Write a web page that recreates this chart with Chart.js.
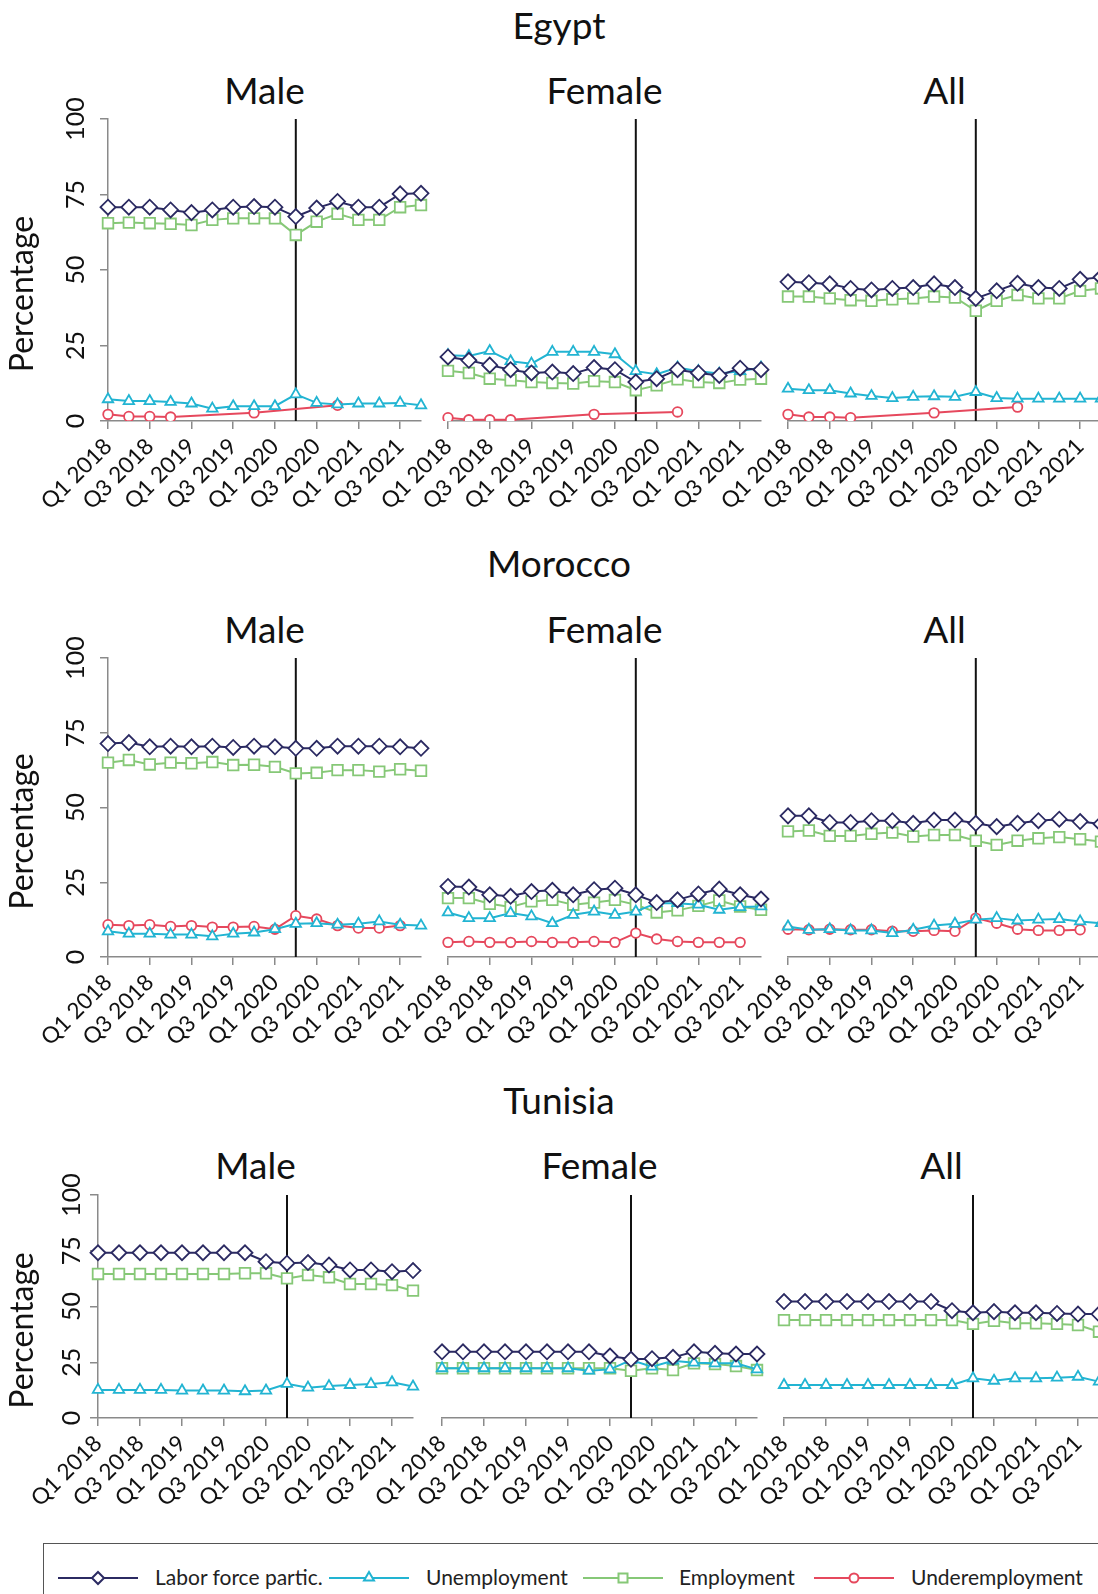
<!DOCTYPE html>
<html>
<head>
<meta charset="utf-8">
<script src="https://cdn.jsdelivr.net/npm/chart.js@4.4.1/dist/chart.umd.min.js"></script>
<style>
    html, body { margin: 0; padding: 0; background: #fff; }
    body { width: 1098px; height: 1594px; overflow: hidden; position: relative; font-family: Lato, 'Open Sans', sans-serif; color: #111; }
    canvas { position: absolute; }
    .title { position: absolute; transform: translateX(-50%); white-space: nowrap; line-height: 1; }
    .legend { position: absolute; left: 43px; top: 1543px; width: 1100px; height: 80px; border: 1.5px solid #555; box-sizing: border-box; }
    .legend svg { position: absolute; top: 24px; }
    .legend span { position: absolute; top: 22px; font-size: 21px; line-height: 21px; color: #222; white-space: nowrap; }
</style>
</head>
<body>
<div class="legend" id="legend"></div>
<script>
// Quarters and labels
const quarters = ['Q1 2018', 'Q2 2018', 'Q3 2018', 'Q4 2018', 'Q1 2019', 'Q2 2019', 'Q3 2019', 'Q4 2019',
                  'Q1 2020', 'Q2 2020', 'Q3 2020', 'Q4 2020', 'Q1 2021', 'Q2 2021', 'Q3 2021', 'Q4 2021'];
const breakQuarter = 'Q2 2020';
const yTicks = [0, 25, 50, 75, 100];
const countries = ['Egypt', 'Morocco', 'Tunisia'];
const groups = ['Male', 'Female', 'All'];
const seriesNames = ['Labor force partic.', 'Unemployment', 'Employment', 'Underemployment'];

// Egypt
const egyptMaleLfp    = [70.8, 70.8, 70.8, 69.9, 69.0, 69.9, 70.8, 71.0, 70.8, 67.7, 70.5, 72.7, 70.8, 70.8, 75.2, 75.4];
const egyptMaleUnemp  = [7.2, 6.6, 6.6, 6.3, 5.8, 4.1, 4.9, 4.9, 4.9, 8.8, 6.0, 5.5, 5.8, 5.8, 6.0, 5.2];
const egyptMaleEmp    = [65.5, 65.7, 65.5, 65.3, 64.9, 66.6, 67.1, 67.1, 67.1, 61.6, 66.0, 68.6, 66.6, 66.6, 70.8, 71.5];
const egyptMaleUnder  = [2.2, 1.5, 1.5, 1.3, null, null, null, 2.7, null, null, null, 5.2, null, null, null, null];

const egyptFemaleLfp   = [21.2, 20.1, 18.5, 17.0, 15.9, 16.2, 15.7, 17.7, 17.0, 12.9, 14.0, 17.0, 15.9, 15.1, 17.5, 17.0];
const egyptFemaleUnemp = [21.8, 21.5, 23.2, 19.8, 19.0, 22.9, 22.9, 22.9, 22.1, 16.5, 15.5, 17.7, 16.5, 15.7, 16.5, 17.7];
const egyptFemaleEmp   = [16.6, 15.9, 14.0, 13.5, 12.9, 12.6, 12.4, 13.2, 12.9, 10.2, 11.8, 13.8, 12.9, 12.6, 13.7, 14.0];
const egyptFemaleUnder = [1.1, 0.4, 0.4, 0.4, null, null, null, 2.2, null, null, null, 3.0, null, null, null, null];

const egyptAllLfp   = [46.1, 45.8, 45.4, 43.9, 43.4, 43.9, 44.2, 45.4, 44.2, 40.6, 43.1, 45.6, 44.2, 43.9, 46.9, 47.6];
const egyptAllUnemp = [10.7, 10.2, 10.2, 9.1, 8.3, 7.6, 8.0, 8.2, 8.0, 9.6, 7.6, 7.4, 7.4, 7.4, 7.4, 7.4];
const egyptAllEmp   = [41.2, 41.2, 40.6, 40.0, 39.8, 40.3, 40.6, 41.2, 40.9, 36.5, 39.8, 41.7, 40.6, 40.6, 43.1, 43.9];
const egyptAllUnder = [2.2, 1.3, 1.3, 1.1, null, null, null, 2.7, null, null, null, 4.6, null, null, null, null];

// Morocco
const moroccoMaleLfp   = [71.4, 71.7, 70.3, 70.5, 70.3, 70.5, 70.1, 70.5, 70.3, 69.8, 69.8, 70.5, 70.5, 70.5, 70.3, 69.8];
const moroccoMaleUnemp = [8.6, 7.8, 7.8, 7.5, 7.5, 6.9, 7.8, 8.2, 9.3, 11.1, 11.3, 10.8, 11.1, 11.9, 10.8, 10.5];
const moroccoMaleEmp   = [65.0, 65.9, 64.4, 65.0, 64.8, 65.2, 64.2, 64.3, 63.6, 61.4, 61.6, 62.5, 62.5, 62.0, 62.8, 62.3];
const moroccoMaleUnder = [10.8, 10.5, 10.8, 10.2, 10.5, 10.0, 10.0, 10.2, 9.3, 13.8, 12.7, 10.5, 9.7, 9.7, 10.5, null];

const moroccoFemaleLfp   = [23.6, 23.4, 20.8, 20.3, 21.9, 22.3, 20.8, 22.5, 23.0, 20.8, 18.2, 19.1, 21.1, 22.7, 20.8, 19.4];
const moroccoFemaleUnemp = [14.9, 13.0, 13.0, 14.7, 13.6, 11.3, 14.1, 15.2, 14.1, 15.2, 18.0, 18.0, 17.5, 15.8, 16.7, 16.9];
const moroccoFemaleEmp   = [19.7, 19.7, 17.8, 16.7, 18.6, 19.1, 17.5, 18.2, 19.1, 17.5, 14.9, 15.6, 17.1, 18.9, 16.9, 15.8];
const moroccoFemaleUnder = [4.9, 5.2, 4.9, 4.9, 5.2, 4.9, 4.9, 5.2, 4.9, 8.0, 6.0, 5.2, 4.9, 4.9, 4.9, null];

const moroccoAllLfp   = [47.2, 47.2, 45.0, 45.0, 45.6, 45.6, 44.7, 45.8, 45.8, 44.7, 43.6, 44.7, 45.6, 46.1, 45.3, 44.5];
const moroccoAllUnemp = [10.2, 9.1, 9.3, 8.9, 8.9, 8.0, 9.1, 10.5, 11.1, 12.5, 13.0, 12.2, 12.5, 12.7, 11.9, 11.3];
const moroccoAllEmp   = [42.0, 42.3, 40.5, 40.5, 41.2, 41.6, 40.3, 40.8, 40.8, 38.9, 37.5, 38.9, 39.7, 40.1, 39.4, 38.6];
const moroccoAllUnder = [9.3, 9.1, 9.3, 9.1, 9.1, 8.6, 8.6, 8.9, 8.6, 13.0, 11.3, 9.3, 8.9, 8.9, 9.1, null];

// Tunisia (no underemployment series)
const tunisiaMaleLfp   = [74.1, 74.1, 74.1, 74.1, 74.1, 74.1, 74.1, 74.1, 70.1, 69.4, 69.7, 68.6, 66.4, 66.4, 65.6, 66.1];
const tunisiaMaleUnemp = [12.6, 12.6, 12.6, 12.6, 12.3, 12.3, 12.3, 12.0, 12.3, 15.3, 13.6, 14.3, 14.8, 15.2, 16.0, 14.1];
const tunisiaMaleEmp   = [64.6, 64.6, 64.6, 64.6, 64.6, 64.6, 64.6, 64.9, 64.9, 62.6, 64.1, 63.1, 60.1, 60.1, 59.6, 57.1];

const tunisiaFemaleLfp   = [29.7, 29.7, 29.7, 29.7, 29.7, 29.7, 29.7, 29.7, 27.8, 26.3, 26.6, 27.2, 29.7, 29.0, 28.7, 28.7];
const tunisiaFemaleUnemp = [22.3, 22.3, 22.3, 22.3, 22.3, 22.3, 22.3, 21.2, 21.8, 26.0, 23.0, 25.7, 24.8, 24.5, 24.5, 21.8];
const tunisiaFemaleEmp   = [22.3, 22.3, 22.3, 22.3, 22.3, 22.3, 22.3, 22.3, 22.3, 21.2, 22.3, 21.5, 24.5, 24.2, 23.3, 21.5];

const tunisiaAllLfp   = [52.2, 52.2, 52.2, 52.2, 52.2, 52.2, 52.2, 52.2, 48.1, 47.2, 47.7, 47.2, 47.2, 46.9, 46.6, 46.6];
const tunisiaAllUnemp = [14.8, 14.8, 14.8, 14.8, 14.8, 14.8, 14.8, 14.8, 14.8, 17.8, 16.7, 17.8, 17.8, 18.1, 18.5, 16.3];
const tunisiaAllEmp   = [43.9, 43.9, 43.9, 43.9, 43.9, 43.9, 43.9, 43.9, 43.9, 42.2, 43.6, 42.5, 42.5, 42.2, 41.7, 38.7];

// series order: lfp, unemployment, employment, underemployment
const panelData = {
    Egypt: {
        Male: [egyptMaleLfp, egyptMaleUnemp, egyptMaleEmp, egyptMaleUnder],
        Female: [egyptFemaleLfp, egyptFemaleUnemp, egyptFemaleEmp, egyptFemaleUnder],
        All: [egyptAllLfp, egyptAllUnemp, egyptAllEmp, egyptAllUnder]
    },
    Morocco: {
        Male: [moroccoMaleLfp, moroccoMaleUnemp, moroccoMaleEmp, moroccoMaleUnder],
        Female: [moroccoFemaleLfp, moroccoFemaleUnemp, moroccoFemaleEmp, moroccoFemaleUnder],
        All: [moroccoAllLfp, moroccoAllUnemp, moroccoAllEmp, moroccoAllUnder]
    },
    Tunisia: {
        Male: [tunisiaMaleLfp, tunisiaMaleUnemp, tunisiaMaleEmp],
        Female: [tunisiaFemaleLfp, tunisiaFemaleUnemp, tunisiaFemaleEmp],
        All: [tunisiaAllLfp, tunisiaAllUnemp, tunisiaAllEmp]
    }
};

// Look of each series
const seriesStyle = [
    { color: '#2b2a62', point: 'rectRot', radius: 7.5 },
    { color: '#22b4d2', point: 'triangle', radius: 6 },
    { color: '#86c877', point: 'rect', radius: 7.5 },
    { color: '#e6485d', point: 'circle', radius: 4.8 }
];

// Page geometry of each row of panels
const rowLayout = [
    { countryBase: 39, groupBase: 104, top: 119, bottom: 421, lefts: [108, 448, 788], width: 313, tickGap: 32 },
    { countryBase: 577, groupBase: 643, top: 658, bottom: 957, lefts: [108, 448, 788], width: 313, tickGap: 32 },
    { countryBase: 1114, groupBase: 1179, top: 1195, bottom: 1418, lefts: [98, 442, 784], width: 315, tickGap: 26 }
];

const AXIS_GREY = '#8a8a8a';
const TITLE_SIZE = 37;
const PAD_TOP = 34;
const PAD_LEFT = 85;

// Break line + rotated y labels
const panelDecor = {
    id: 'panelDecor',
    beforeDatasetsDraw(chart) {
        const ctx = chart.ctx;
        const x = chart.scales.x.getPixelForValue(quarters.indexOf(breakQuarter));
        const { top, bottom } = chart.chartArea;
        ctx.save();
        ctx.strokeStyle = '#111';
        ctx.lineWidth = 2;
        ctx.beginPath();
        ctx.moveTo(x, top);
        ctx.lineTo(x, bottom);
        ctx.stroke();
        ctx.restore();
    },
    afterDraw(chart, args, opts) {
        if (!opts.showY) return;
        const ctx = chart.ctx;
        const yScale = chart.scales.y;
        const { left, top, bottom } = chart.chartArea;
        ctx.save();
        ctx.fillStyle = '#111';
        ctx.textAlign = 'center';
        ctx.textBaseline = 'middle';
        ctx.font = '25px Lato';
        yScale.ticks.forEach(t => {
            ctx.save();
            ctx.translate(left - opts.tickGap, yScale.getPixelForValue(t.value));
            ctx.rotate(-Math.PI / 2);
            ctx.fillText(String(t.value), 0, 0);
            ctx.restore();
        });
        ctx.font = '32px Lato';
        ctx.translate(23, (top + bottom) / 2 + 24);
        ctx.rotate(-Math.PI / 2);
        ctx.fillText('Percentage', 0, 0);
        ctx.restore();
    }
};

function addTitle(text, cx, baseline) {
    const div = document.createElement('div');
    div.className = 'title';
    div.textContent = text;
    div.style.fontSize = TITLE_SIZE + 'px';
    div.style.left = cx + 'px';
    div.style.top = (baseline - 0.887 * TITLE_SIZE) + 'px';
    document.body.appendChild(div);
}

function makePanel(country, group, r, c) {
    const L = rowLayout[r];
    const isFirst = c === 0;
    const padLeft = isFirst ? 0 : PAD_LEFT;
    const yWidth = isFirst ? L.lefts[0] : 0;
    const plotH = L.bottom - L.top;

    const canvas = document.createElement('canvas');
    canvas.width = padLeft + yWidth + L.width + 12;
    canvas.height = PAD_TOP + plotH + 100;
    canvas.style.left = (isFirst ? 0 : L.lefts[c] - PAD_LEFT) + 'px';
    canvas.style.top = (L.top - PAD_TOP) + 'px';
    document.body.appendChild(canvas);

    const datasets = panelData[country][group].map((values, i) => ({
        label: seriesNames[i],
        data: values,
        borderColor: seriesStyle[i].color,
        backgroundColor: '#fff',
        borderWidth: 2,
        pointStyle: seriesStyle[i].point,
        pointRadius: seriesStyle[i].radius,
        pointBorderWidth: 1.8,
        pointBorderColor: seriesStyle[i].color,
        pointBackgroundColor: '#fff',
        spanGaps: true,
        tension: 0
    }));

    new Chart(canvas, {
        type: 'line',
        data: { labels: quarters, datasets: datasets },
        plugins: [panelDecor],
        options: {
            responsive: false,
            animation: false,
            layout: { padding: { left: padLeft, right: 12, top: PAD_TOP, bottom: 0 } },
            plugins: {
                legend: { display: false },
                tooltip: { enabled: false },
                panelDecor: { showY: isFirst, tickGap: L.tickGap }
            },
            scales: {
                x: {
                    offset: false,
                    grid: {
                        drawOnChartArea: false,
                        drawTicks: true,
                        tickLength: 8,
                        lineWidth: 1.5,
                        color: ctx => ctx.index % 2 === 0 ? AXIS_GREY : 'rgba(0,0,0,0)'
                    },
                    border: { display: true, color: AXIS_GREY, width: 1.5 },
                    ticks: {
                        autoSkip: false,
                        minRotation: 45,
                        maxRotation: 45,
                        padding: 4,
                        color: '#111',
                        font: { family: 'Lato', size: 22.5 },
                        callback: function(val, i) { return i % 2 === 0 ? this.getLabelForValue(val) : ''; }
                    },
                    afterFit: s => { s.height = 100; s.paddingLeft = 0; s.paddingRight = 0; }
                },
                y: {
                    display: isFirst,
                    min: 0,
                    max: 100,
                    afterBuildTicks: s => { s.ticks = yTicks.map(v => ({ value: v })); },
                    grid: { drawOnChartArea: false, drawTicks: true, tickLength: 8, lineWidth: 1.5, color: AXIS_GREY },
                    border: { display: true, color: AXIS_GREY, width: 1.5 },
                    ticks: { display: false },
                    afterFit: s => { s.width = yWidth; s.paddingTop = 0; s.paddingBottom = 0; }
                }
            }
        }
    });
}

countries.forEach((country, r) => {
    const L = rowLayout[r];
    addTitle(country, 559, L.countryBase);
    groups.forEach((group, c) => {
        addTitle(group, L.lefts[c] + L.width / 2, L.groupBase);
        makePanel(country, group, r, c);
    });
});

// Legend
const legendLineX = [14, 285, 539, 770];
const legendTextX = [111, 382, 635, 867];
const markerSvg = [
    '<polygon points="40,4 46,10 40,16 34,10" />',
    '<polygon points="40,4 45,12.5 35,12.5" />',
    '<rect x="35.5" y="5.5" width="9" height="9" />',
    '<circle cx="40" cy="10" r="4.5" />'
];
const legend = document.getElementById('legend');
seriesNames.forEach((name, i) => {
    const col = seriesStyle[i].color;
    legend.insertAdjacentHTML('beforeend',
        '<svg width="80" height="20" style="left:' + legendLineX[i] + 'px">' +
        '<line x1="0" y1="10" x2="80" y2="10" stroke="' + col + '" stroke-width="2"/>' +
        '<g fill="#fff" stroke="' + col + '" stroke-width="2">' + markerSvg[i] + '</g></svg>' +
        '<span style="left:' + legendTextX[i] + 'px">' + name + '</span>');
});
</script>
</body>
</html>
